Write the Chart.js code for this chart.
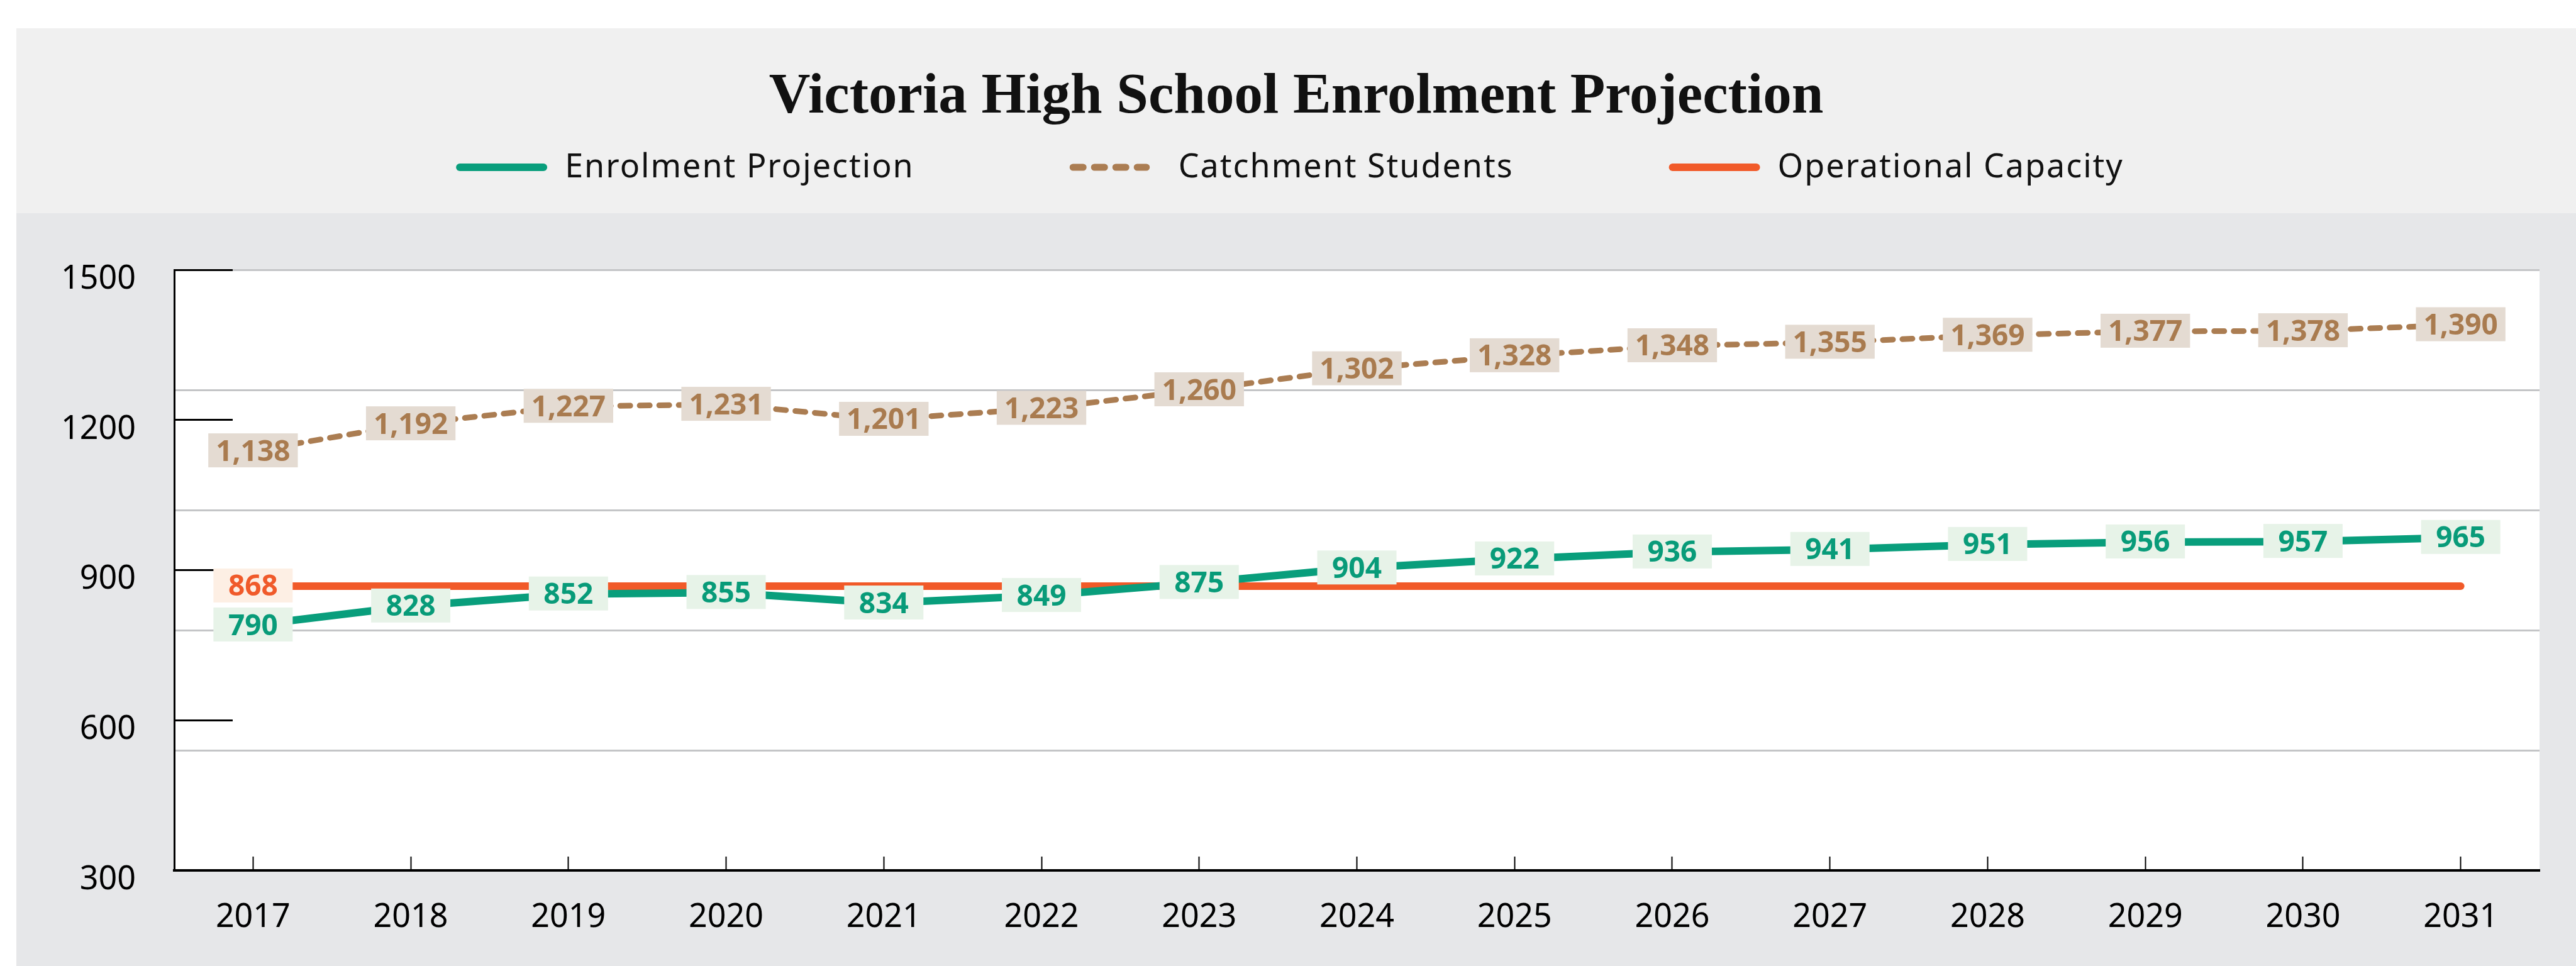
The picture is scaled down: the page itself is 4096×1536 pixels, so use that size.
<!DOCTYPE html>
<html>
<head>
<meta charset="utf-8">
<title>Victoria High School Enrolment Projection</title>
<script src="https://cdn.jsdelivr.net/npm/chart.js"></script>
<style>
  html, body { margin: 0; padding: 0; background: #fff; }
  #wrap { width: 4096px; height: 1536px; }
</style>
</head>
<body>
<div id="wrap"><canvas id="chart" width="4096" height="1536"></canvas></div>
<script>
/* Victoria High School enrolment projection, 2017-2031 */
const years = ["2017", "2018", "2019", "2020", "2021", "2022", "2023", "2024", "2025", "2026", "2027", "2028", "2029", "2030", "2031"];
const enrolment = [790, 828, 852, 855, 834, 849, 875, 904, 922, 936, 941, 951, 956, 957, 965];
const catchment = [1138, 1192, 1227, 1231, 1201, 1223, 1260, 1302, 1328, 1348, 1355, 1369, 1377, 1378, 1390];
const capacity = [868, 868, 868, 868, 868, 868, 868, 868, 868, 868, 868, 868, 868, 868, 868];
const yTicks = [300, 600, 900, 1200, 1500];
const gridValues = [300, 540, 780, 1020, 1260, 1500];

const SANS = "'Noto Sans', 'Open Sans', sans-serif";

// panel bands behind everything, white plot area
const panelBg = {
  id: "panelBg",
  beforeDraw(chart) {
    const { ctx, chartArea: a, width, height } = chart;
    ctx.save();
    ctx.fillStyle = "#ffffff";
    ctx.fillRect(0, 0, width, height);
    ctx.fillStyle = "#f0f0f0";
    ctx.fillRect(26, 45, width - 26, 294);
    ctx.fillStyle = "#e6e7e9";
    ctx.fillRect(26, 339, width - 26, height - 339);
    ctx.fillStyle = "#ffffff";
    ctx.fillRect(a.left, a.top, a.right - a.left, a.bottom - a.top);
    ctx.restore();
  },
};

// boxed value labels centred on each point
const valueBoxes = {
  id: "valueBoxes",
  afterDatasetsDraw(chart) {
    const ctx = chart.ctx;
    ctx.save();
    ctx.font = "bold 46px " + SANS;
    ctx.textAlign = "center";
    ctx.textBaseline = "alphabetic";
    chart.data.datasets.forEach((ds, i) => {
      const meta = chart.getDatasetMeta(i);
      meta.data.forEach((pt, j) => {
        if (ds.labelAt && !ds.labelAt.includes(j)) return;
        const text = ds.data[j].toLocaleString("en-US");
        const w = Math.max(ctx.measureText(text).width + 24, 126);
        const h = 54;
        ctx.fillStyle = ds.labelBg;
        ctx.fillRect(pt.x - w / 2, pt.y - h / 2 - 1, w, h);
        ctx.fillStyle = ds.labelColor;
        ctx.fillText(text, pt.x, pt.y + 15.5);
      });
    });
    ctx.restore();
  },
};

// line-sample legend under the title
const lineLegend = {
  id: "lineLegend",
  afterDraw(chart) {
    const ctx = chart.ctx;
    const sets = chart.data.datasets;
    const sample = 145, gap = 28, spacing = 247;
    ctx.save();
    ctx.font = "52px " + SANS;
    ctx.letterSpacing = "2px";
    const widths = sets.map((ds) => ctx.measureText(ds.label).width);
    const total = widths.reduce((s, w) => s + sample + gap + w, 0) + spacing * (sets.length - 1);
    let x = 2051 - total / 2;
    sets.forEach((ds, i) => {
      ctx.strokeStyle = ds.borderColor;
      ctx.lineCap = "round";
      ctx.beginPath();
      if (ds.borderDash) {
        ctx.lineWidth = 11;
        ctx.setLineDash([16, 18]);
        ctx.moveTo(x + 5.5, 266);
        ctx.lineTo(x + 122, 266);
      } else {
        ctx.lineWidth = 12;
        ctx.setLineDash([]);
        ctx.moveTo(x + 6, 266);
        ctx.lineTo(x + sample - 6, 266);
      }
      ctx.stroke();
      ctx.fillStyle = "#111";
      ctx.textAlign = "left";
      ctx.textBaseline = "alphabetic";
      ctx.fillText(ds.label, x + sample + gap, 282);
      x += sample + gap + widths[i] + spacing;
    });
    ctx.restore();
  },
};

new Chart(document.getElementById("chart"), {
  type: "line",
  data: {
    labels: years,
    datasets: [
      {
        label: "Enrolment Projection",
        data: enrolment,
        borderColor: "#099e7c",
        borderWidth: 12,
        labelBg: "#e7f3e8",
        labelColor: "#089b79",
      },
      {
        label: "Catchment Students",
        data: catchment,
        borderColor: "#ab7d52",
        borderWidth: 9,
        borderDash: [16, 15],
        labelBg: "#e4dbd2",
        labelColor: "#a97b4f",
      },
      {
        label: "Operational Capacity",
        data: capacity,
        borderColor: "#f15a29",
        borderWidth: 12,
        labelAt: [0],
        labelBg: "#fdefe4",
        labelColor: "#f05a2a",
      },
    ],
  },
  options: {
    responsive: false,
    animation: false,
    devicePixelRatio: 1,
    layout: { padding: { left: 26, right: 0, top: 0, bottom: 0 } },
    elements: {
      point: { radius: 0, hoverRadius: 0 },
      line: { tension: 0, borderCapStyle: "round", borderJoinStyle: "round" },
    },
    plugins: {
      legend: { display: false },
      tooltip: { enabled: false },
      title: {
        display: true,
        text: "Victoria High School Enrolment Projection",
        color: "#111",
        font: { family: "'Liberation Serif', serif", size: 91, weight: "bold", lineHeight: 1.2 },
        padding: { top: 101, bottom: 218.8 },
      },
    },
    scales: {
      x: {
        offset: true,
        grid: { offset: false, drawOnChartArea: false, drawTicks: true, tickLength: -22, tickColor: "#000", tickWidth: 2 },
        border: { display: true, color: "#000", width: 4 },
        ticks: { color: "#000", font: { family: SANS, size: 52 }, padding: 66, maxRotation: 0, autoSkip: false },
        afterFit(s) {
          s.height = 152;
          s.paddingLeft = 0;
          s.paddingRight = 0;
        },
      },
      y: {
        position: "left",
        min: 300,
        max: 1500,
        afterBuildTicks(s) {
          s.ticks = yTicks.map((v) => ({ value: v }));
        },
        grid: { drawOnChartArea: false, drawTicks: true, tickLength: -93, tickColor: "#000", tickWidth: 3 },
        border: { display: true, color: "#000", width: 3 },
        ticks: { color: "#000", font: { family: SANS, size: 52 }, padding: 154, labelOffset: 15, callback: (v) => String(v) },
        afterFit(s) {
          s.width = 251;
          s.paddingTop = 0;
          s.paddingBottom = 0;
        },
      },
      yGrid: {
        position: "right",
        min: 300,
        max: 1500,
        afterBuildTicks(s) {
          s.ticks = gridValues.map((v) => ({ value: v }));
        },
        grid: { color: "#c4c5c7", lineWidth: 3, drawTicks: false, z: -2 },
        border: { display: false },
        ticks: { display: false },
        afterFit(s) {
          s.width = 58;
          s.paddingTop = 0;
          s.paddingBottom = 0;
        },
      },
    },
  },
  plugins: [panelBg, valueBoxes, lineLegend],
});
</script>
</body>
</html>
